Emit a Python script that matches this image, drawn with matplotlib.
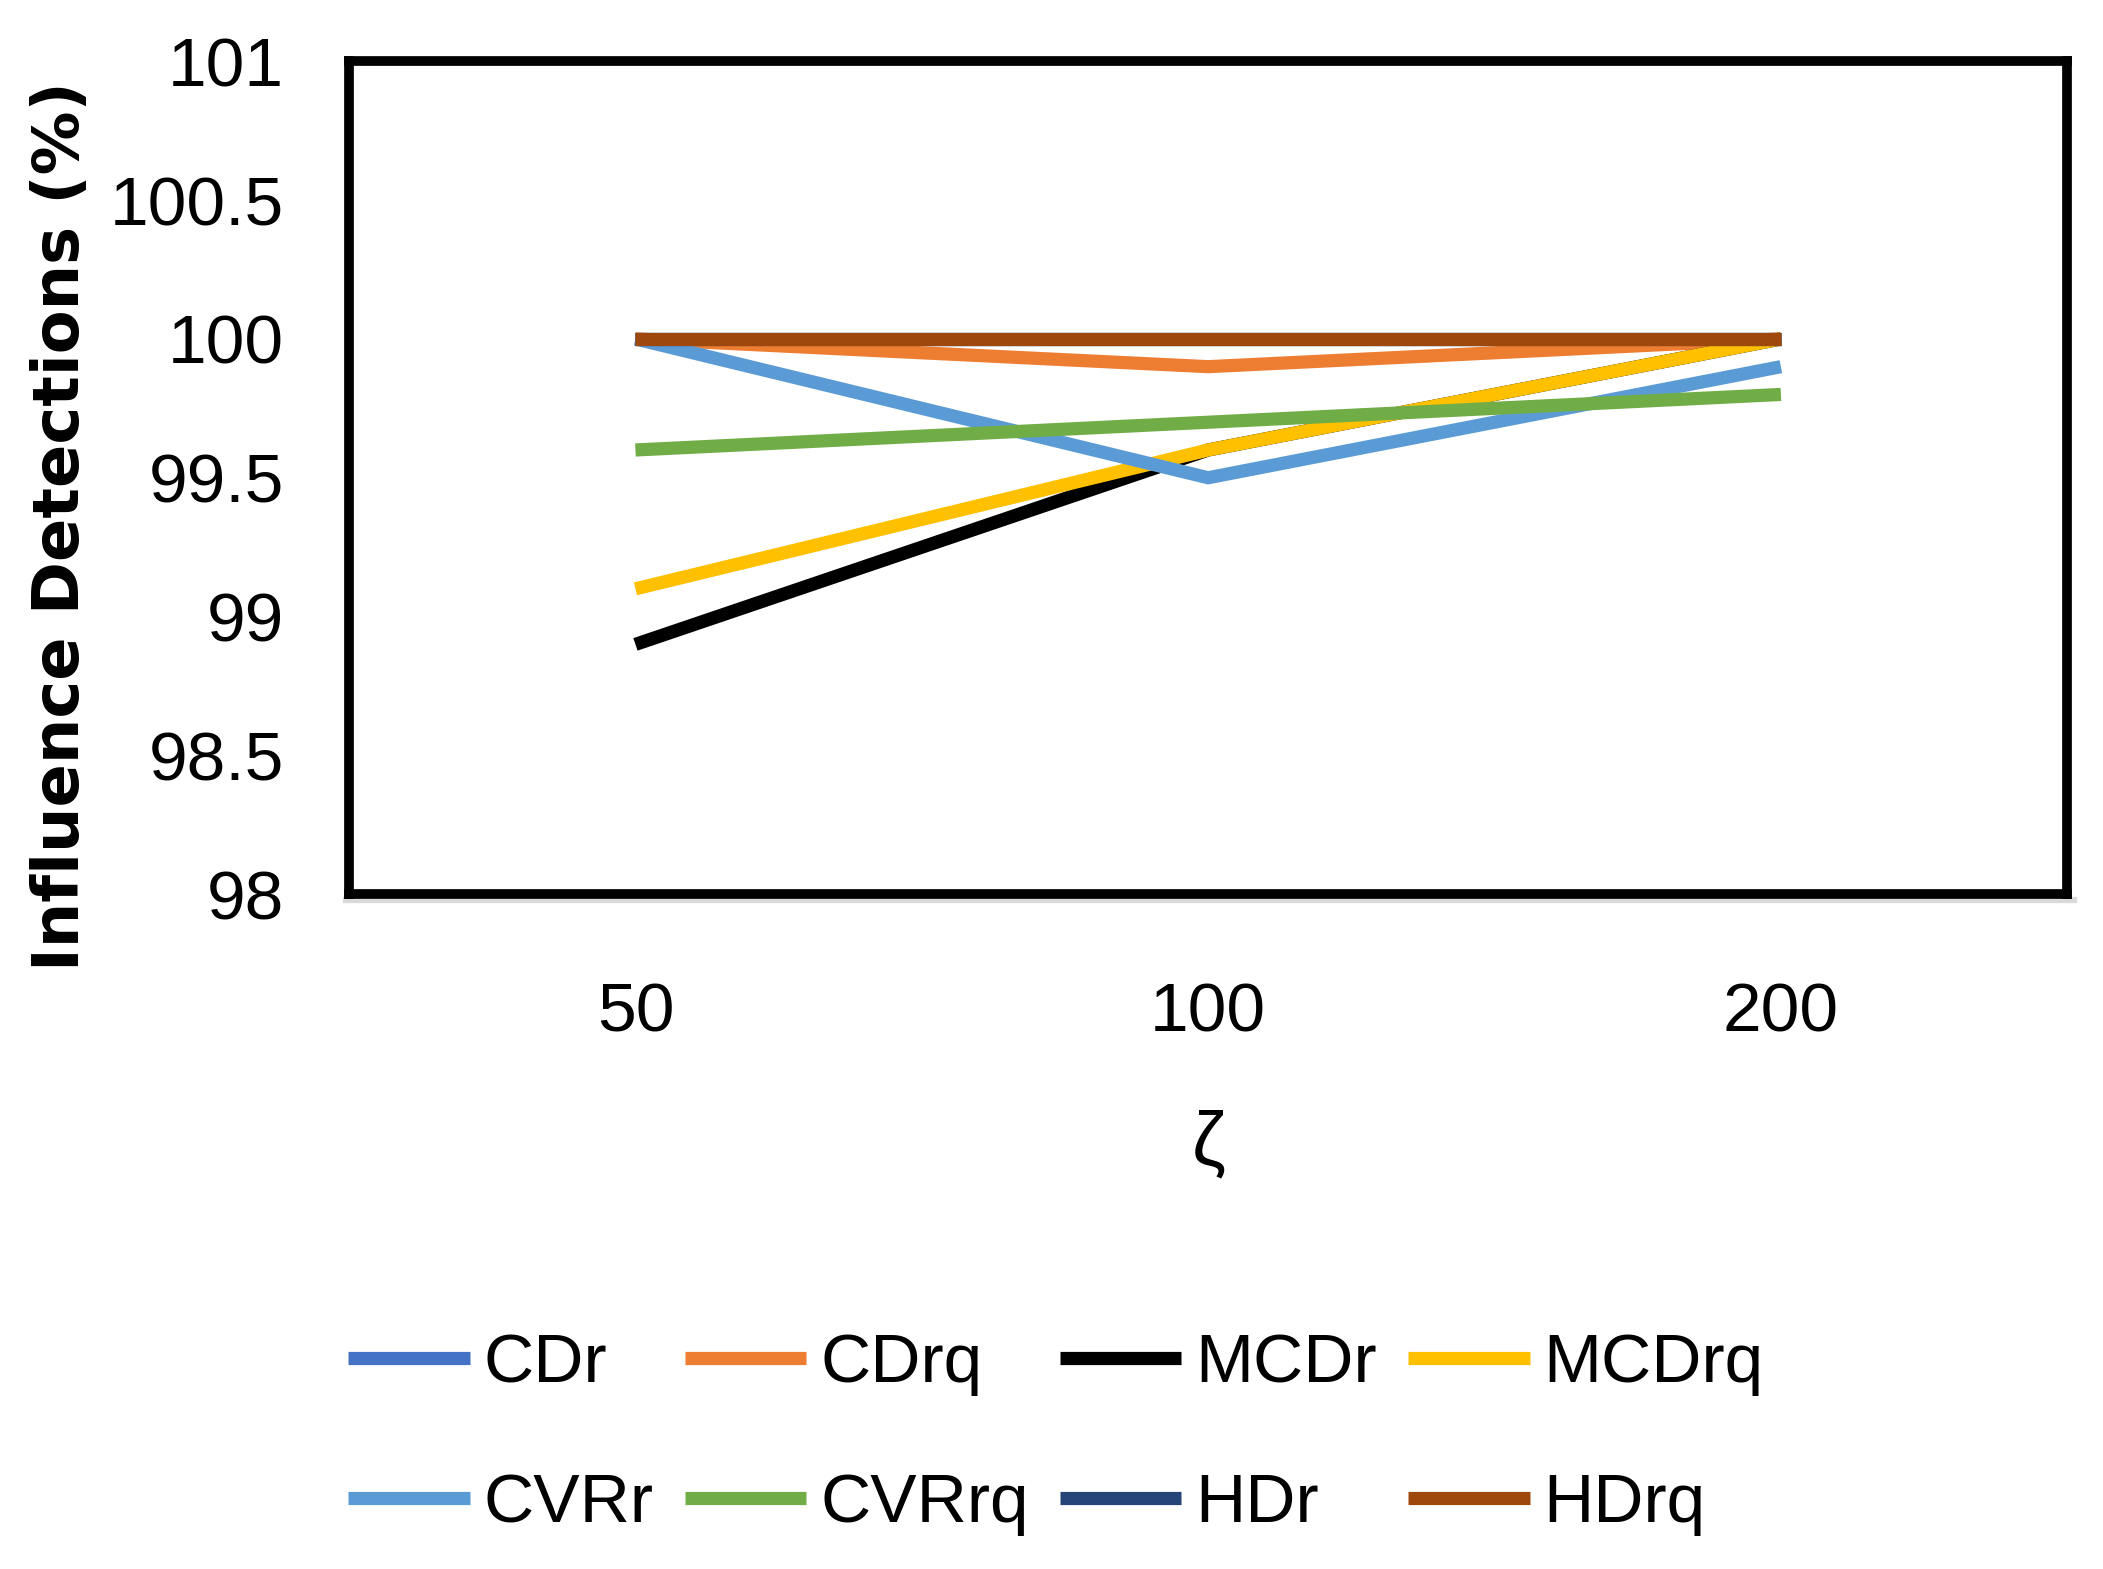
import matplotlib.pyplot as plt
from matplotlib.ticker import FormatStrFormatter

plt.rcParams['font.family'] = ['Liberation Sans', 'DejaVu Sans']

# data
zeta = ["50", "100", "200"]
series_names = ["CDr", "CDrq", "MCDr", "MCDrq", "CVRr", "CVRrq", "HDr", "HDrq"]
cdr = [100.0, 100.0, 100.0]
cdrq = [100.0, 99.9, 100.0]
mcdr = [98.9, 99.6, 100.0]
mcdrq = [99.1, 99.6, 100.0]
cvrr = [100.0, 99.5, 99.9]
cvrrq = [99.6, 99.7, 99.8]
hdr = [100.0, 100.0, 100.0]
hdrq = [100.0, 100.0, 100.0]
yticks = [98, 98.5, 99, 99.5, 100, 100.5, 101]

colors = ["#4472C4", "#ED7D31", "#000000", "#FFC000",
          "#5B9BD5", "#70AD47", "#264478", "#9E480E"]
all_series = [cdr, cdrq, mcdr, mcdrq, cvrr, cvrrq, hdr, hdrq]

fig = plt.figure(figsize=(21.03, 15.69), dpi=100)
ax = fig.add_axes([0.166, 0.430, 0.817, 0.531])

x = range(len(zeta))
handles = []
for name, vals, c in zip(series_names, all_series, colors):
    h, = ax.plot(x, vals, color=c, lw=9.5, label=name, solid_capstyle='butt')
    handles.append(h)

ax.set_xlim(-0.5, 2.5)
ax.set_ylim(98, 101)
ax.set_xticks(list(x))
ax.set_xticklabels(zeta)
ax.set_yticks(yticks)
ax.yaxis.set_major_formatter(FormatStrFormatter('%g'))
ax.tick_params(axis='both', length=0, labelsize=50)
ax.tick_params(axis='y', pad=47)
ax.tick_params(axis='x', pad=63)

for spine in ax.spines.values():
    spine.set_linewidth(7)
    spine.set_color('black')

# light grey category axis line under the frame
ax.plot([-0.002, 1.004], [-0.007, -0.007], transform=ax.transAxes,
        color='#d9d9d9', lw=4.5, clip_on=False, zorder=1)

ax.set_xlabel("ζ", fontsize=55, labelpad=46)
fig.text(61 / 2103, 1 - 526 / 1569, "Influence Detections (%)",
         rotation=90, ha='center', va='center', fontsize=46,
         fontweight='bold', family='DejaVu Sans')

# legend is filled row by row in the reference
order = [0, 4, 1, 5, 2, 6, 3, 7]
fig.legend([handles[i] for i in order], [series_names[i] for i in order],
           loc='upper left', bbox_to_anchor=(0.1655, 0.151), ncol=4,
           frameon=False, fontsize=50, handlelength=1.75, handletextpad=0.2,
           columnspacing=0.45, labelspacing=1.1, borderpad=0, borderaxespad=0)

fig.savefig("out.png", dpi=100)
